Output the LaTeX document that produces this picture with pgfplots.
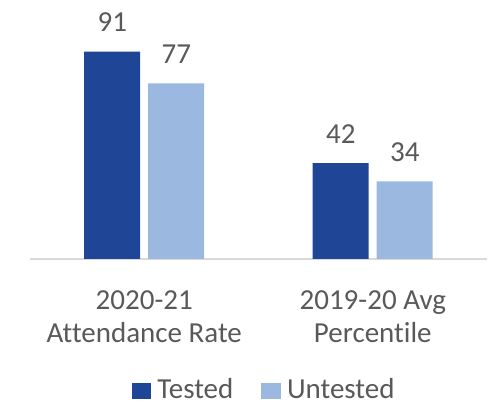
\documentclass[border=0pt]{standalone}
\usepackage{fontspec}
\setmainfont{Carlito}[Ligatures=NoCommon]
\usepackage{pgfplots}
\pgfplotsset{compat=1.18}
\definecolor{tested}{HTML}{1F4597}
\definecolor{untested}{HTML}{9BB9E0}
\definecolor{txt}{HTML}{595959}
\definecolor{axline}{HTML}{D9D9D9}
\newcommand{\chartfont}{\fontsize{29}{33.3}\selectfont}

\begin{document}
\begin{tikzpicture}
\path[use as bounding box] (0pt,0pt) rectangle (491pt,404pt);
\begin{axis}[
    at={(30pt,145pt)}, anchor=south west,
    scale only axis,
    width=457pt, height=228pt,
    xmin=-0.5, xmax=1.5,
    ymin=0, ymax=100,
    ybar=8pt, bar width=56pt,
    axis y line=none,
    axis x line*=bottom,
    x axis line style={draw=axline, line width=1.6pt, -},
    xtick={0,1},
    xticklabels={{2020-21\\Attendance Rate},{2019-20 Avg\\Percentile}},
    xtick style={draw=none},
    xticklabel style={align=center, font=\chartfont, text=txt, inner sep=0pt, anchor=north, yshift=-27pt},
    /pgf/number format/assume math mode=true,
    nodes near coords,
    every node near coord/.append style={font=\chartfont, text=txt, inner sep=0pt, anchor=south, yshift=19.5pt},
    clip=false,
    legend columns=2,
    legend style={draw=none, fill=none, at={(0.51,-0.572)}, anchor=center,
        font=\chartfont, text=txt, nodes={inner sep=0pt},
        /tikz/every odd column/.append style={column sep=6pt},
        /tikz/every even column/.append style={column sep=28pt}},
    legend image code/.code={\fill[#1] (0pt,-9.3pt) rectangle (19.7pt,6pt);},
]
\addplot[draw=none, fill=tested] coordinates {(0,91) (1,42)};
\addplot[draw=none, fill=untested] coordinates {(0,77) (1,34)};
\legend{Tested, Untested}
\end{axis}
\end{tikzpicture}
\end{document}
